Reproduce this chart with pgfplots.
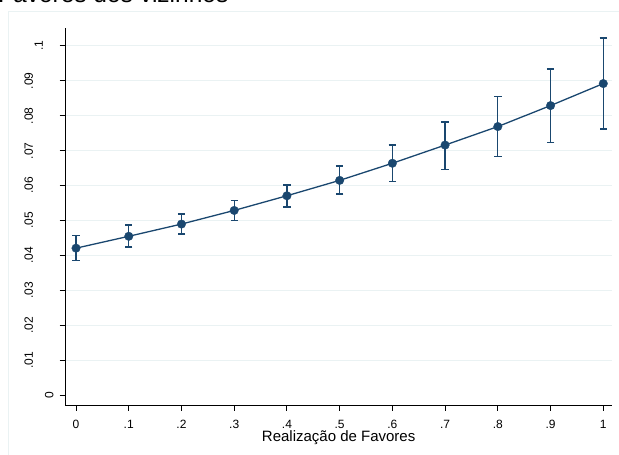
\documentclass[border=0pt]{standalone}
\usepackage{fontspec}
\setmainfont{Liberation Sans}
\usepackage{pgfplots}
\pgfplotsset{compat=1.18}
\usepackage{pgfplotstable}

\definecolor{stnavy}{RGB}{26,71,111}
\definecolor{stgrid}{RGB}{234,242,243}

% predicted value with lower and upper confidence bounds
\pgfplotstableread{
x    y      lo     hi
0.0  0.0421 0.0386 0.0457
0.1  0.0455 0.0424 0.0487
0.2  0.0490 0.0462 0.0519
0.3  0.0529 0.0501 0.0558
0.4  0.0571 0.0539 0.0602
0.5  0.0615 0.0576 0.0656
0.6  0.0664 0.0611 0.0716
0.7  0.0716 0.0647 0.0782
0.8  0.0769 0.0684 0.0855
0.9  0.0829 0.0723 0.0934
1.0  0.0892 0.0762 0.1022
}\favores

% rotated y labels, pushed away from the axis by #1
\newcommand{\yl}[2]{\raisebox{#1}{#2}}

\begin{document}
\begin{tikzpicture}
\path[use as bounding box] (0,0) rectangle (619bp,455bp);
% outer graph region
\draw[stgrid, line width=1bp] (8bp,-20bp) rectangle (700bp,443bp);
\node[anchor=base west, inner sep=0pt, font=\fontsize{24.5bp}{28bp}\selectfont]
  at (-2bp,452bp) {Favores dos vizinhos};
\begin{axis}[
  at={(65bp,50bp)}, anchor=south west,
  scale only axis, width=547.3bp, height=377bp,
  xmin=-0.0209, xmax=1.0171, ymin=-0.00277, ymax=0.1051,
  axis x line*=bottom, axis y line*=left,
  axis line style={-, line width=0.9bp, black},
  tick align=outside, major tick length=5.5bp,
  tick style={line width=0.9bp, black},
  xtick={0,0.1,0.2,0.3,0.4,0.5,0.6,0.7,0.8,0.9,1},
  xticklabels={0,.1,.2,.3,.4,.5,.6,.7,.8,.9,1},
  ytick={0.01,0.02,0.03,0.04,0.05,0.06,0.07,0.08,0.09,0.1},
  yticklabels={\yl{20.3bp}{.01},\yl{20.3bp}{.02},\yl{20.3bp}{.03},\yl{20.3bp}{.04},
    \yl{20.3bp}{.05},\yl{20.3bp}{.06},\yl{20.3bp}{.07},\yl{20.3bp}{.08},
    \yl{20.3bp}{.09},\yl{10.3bp}{.1}},
  extra y ticks={0}, extra y tick labels={\yl{0bp}{0}},
  extra y tick style={grid=none},
  ymajorgrids, major grid style={stgrid, line width=1bp},
  tick label style={font=\fontsize{12bp}{14bp}\selectfont},
  yticklabel style={rotate=90, anchor=base},
  xticklabel style={anchor=base},
  yticklabel shift=6.2bp,
  xticklabel shift=17.5bp,
  xlabel={Realização de Favores},
  xlabel style={at={(axis description cs:0.5,0)}, anchor=base, yshift=-36.7bp,
    font=\fontsize{15bp}{18bp}\selectfont},
  clip=false,
]
\addplot[stnavy, line width=1.3bp, mark=*, mark size=4.3bp,
  mark options={fill=stnavy, draw=stnavy, line width=0.3bp},
  error bars/.cd, y dir=both, y explicit,
  error bar style={line width=1.3bp, stnavy},
  error mark options={stnavy, line width=1.3bp, mark size=3.7bp, rotate=90}]
  table[x=x, y=y,
    y error plus expr=\thisrow{hi}-\thisrow{y},
    y error minus expr=\thisrow{y}-\thisrow{lo}] {\favores};
\end{axis}
\end{tikzpicture}
\end{document}
